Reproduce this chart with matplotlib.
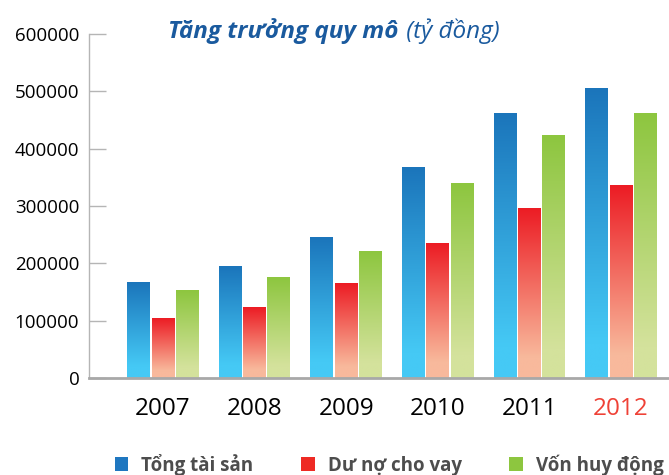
import numpy as np
import matplotlib.pyplot as plt
from matplotlib.colors import to_rgb
from matplotlib.patches import Patch

plt.rcParams['font.family'] = ['Open Sans', 'DejaVu Sans']

years = ['2007', '2008', '2009', '2010', '2011', '2012']
tong_tai_san = [166000, 195000, 245000, 368000, 461000, 505000]
du_no = [103000, 123000, 165000, 235000, 295000, 335000]
von_huy_dong = [152000, 175000, 221000, 340000, 423000, 461000]
series_names = ['Tổng tài sản', 'Dư nợ cho vay', 'Vốn huy động']

# (top colour, bottom colour) for each series gradient
grad_colors = [('#1b75bb', '#45c9f5'),
               ('#ec1c24', '#f8b99c'),
               ('#8dc63f', '#d4e29c')]
legend_colors = ['#1f77c0', '#ee2a24', '#8dc63f']


def gradient_img(top, bottom, n=200):
    t = np.linspace(0, 1, n)
    t = np.clip(t / 0.88, 0, 1)  # bottom part stays flat
    c0, c1 = np.array(to_rgb(top)), np.array(to_rgb(bottom))
    rows = c0[None, :] * (1 - t[:, None]) + c1[None, :] * t[:, None]
    return rows[:, None, :]


fig = plt.figure(figsize=(6.69, 4.75), dpi=100)
ax = fig.add_axes([89 / 669, (475 - 378) / 475, 580 / 669, 344 / 475])

x = np.arange(len(years))
width = 0.25
offsets = [-0.265, 0, 0.265]
for vals, off, (top, bot) in zip([tong_tai_san, du_no, von_huy_dong], offsets, grad_colors):
    bars = ax.bar(x + off, vals, width, color='none', edgecolor='none')
    img = gradient_img(top, bot)
    for b in bars:
        x0 = b.get_x()
        ax.imshow(img, extent=[x0, x0 + b.get_width(), 0, b.get_height()],
                  aspect='auto', origin='upper', zorder=2, interpolation='bilinear')

ax.set_xlim(-0.808, 5.524)
ax.set_ylim(0, 600000)
ax.set_yticks(np.arange(0, 600001, 100000))
ax.set_yticklabels([str(v) for v in range(0, 600001, 100000)], fontsize=13.5)
ax.tick_params(axis='y', direction='in', length=12, width=1, color='#b5b5b5', pad=7)
ax.set_xticks(x)
ax.set_xticklabels(years, fontsize=17.5)
ax.tick_params(axis='x', length=0, pad=14)
ax.get_xticklabels()[-1].set_color('#ef4136')

for s in ['top', 'right']:
    ax.spines[s].set_visible(False)
ax.spines['left'].set_color('#b5b5b5')
ax.spines['left'].set_linewidth(1)
ax.spines['bottom'].set_color('#a8a8a8')
ax.spines['bottom'].set_linewidth(2)

fig.text(0.596, 0.935, 'Tăng trưởng quy mô', fontsize=17.5, fontweight='bold',
         style='italic', color='#1a5a9e', ha='right', va='center')
fig.text(0.598, 0.935, ' (tỷ đồng)', fontsize=17.5, style='italic',
         color='#1a5a9e', ha='left', va='center')

handles = [Patch(facecolor=c, edgecolor='none') for c in legend_colors]
leg = fig.legend(handles, series_names, loc='center', bbox_to_anchor=(0.582, 0.022),
                 ncol=3, frameon=False, handlelength=0.7, handleheight=0.7,
                 handletextpad=0.7, columnspacing=2.55,
                 prop={'weight': 'bold', 'size': 13.5})
for t in leg.get_texts():
    t.set_color('#4d4d4d')

fig.savefig('out.png', dpi=100)
